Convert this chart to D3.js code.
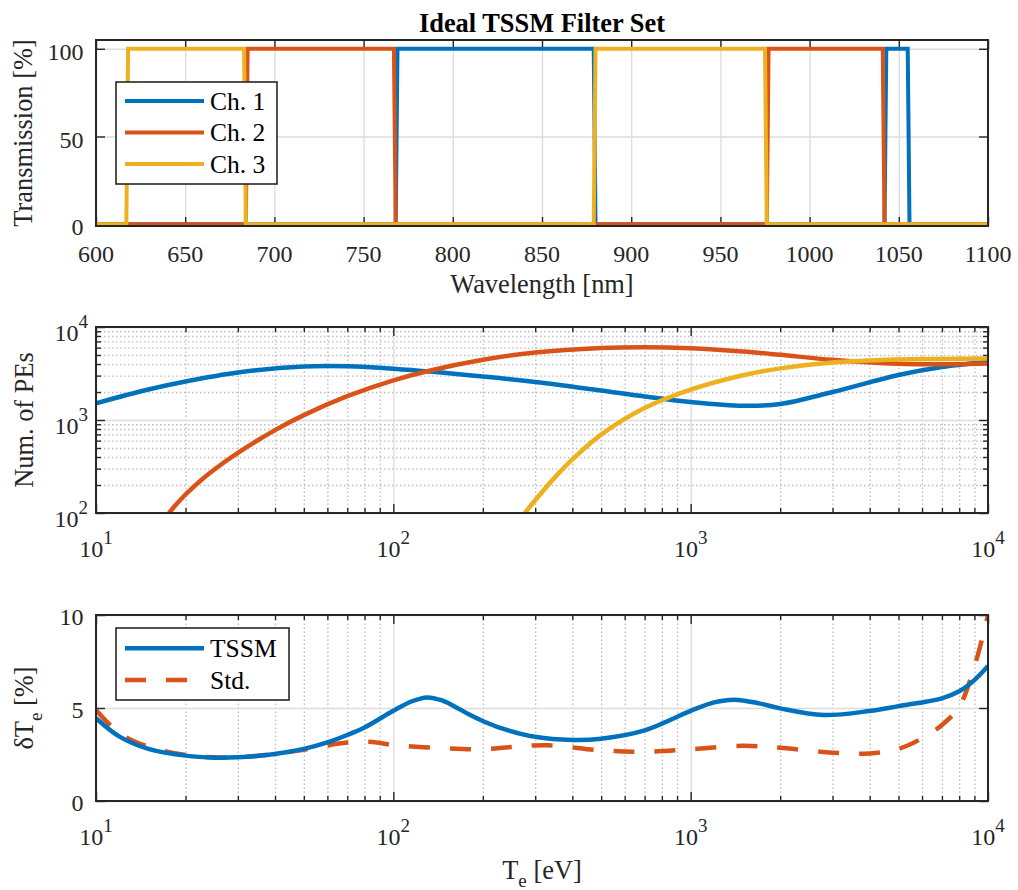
<!DOCTYPE html>
<html>
<head>
<meta charset="utf-8">
<script src="https://cdn.jsdelivr.net/npm/d3@7"></script>
<style>
  body { margin: 0; background: #fff; }
  svg { display: block; }
</style>
</head>
<body>
<svg id="chart" width="1018" height="890"></svg>
<script>
// ---------- Filter transmission (wavelength [nm] / transmission [%]) ----------
const ch1Wavelength = [600, 768, 769, 879, 880, 1042, 1043, 1055, 1056, 1100];
const ch1Transmission = [0, 0, 100, 100, 0, 0, 100, 100, 0, 0];
const ch2Wavelength = [600, 684, 685, 767, 768, 976, 977, 1041, 1042, 1100];
const ch2Transmission = [0, 0, 100, 100, 0, 0, 100, 100, 0, 0];
const ch3Wavelength = [600, 617, 618, 683, 684, 879, 880, 975, 976, 1100];
const ch3Transmission = [0, 0, 100, 100, 0, 0, 100, 100, 0, 0];
const channelNames = ["Ch. 1", "Ch. 2", "Ch. 3"];
const wavelengthTicks = [600, 650, 700, 750, 800, 850, 900, 950, 1000, 1050, 1100];
const transmissionTicks = [0, 50, 100];

// ---------- Photoelectron counts vs electron temperature ----------
const pe1Te = [10, 15, 20, 30, 50, 70, 100, 200, 300, 500, 700, 1000, 1500, 2000, 3000, 5000, 7000, 10000];
const pe1Count = [1512, 2128, 2594, 3242, 3760, 3780, 3552, 2936, 2563, 2076, 1789, 1562, 1425, 1486, 2000, 3048, 3715, 4205];
const pe2Te = [17.6, 18.5, 20, 22.5, 25, 30, 40, 50, 70, 100, 130, 200, 300, 500, 700, 1000, 1500, 2000, 3000, 5000, 7000, 10000];
const pe2Count = [100, 121, 158, 224, 294, 444, 779, 1129, 1803, 2673, 3347, 4440, 5318, 5946, 6065, 5916, 5453, 5024, 4440, 4022, 3972, 4042];
const pe3Te = [277, 300, 350, 400, 500, 700, 1000, 1500, 2000, 3000, 5000, 7000, 10000];
const pe3Count = [100, 137, 243, 377, 697, 1343, 2117, 3024, 3588, 4152, 4473, 4540, 4574];

// ---------- Relative temperature error [%] ----------
const tssmTe = [10, 12, 15, 20, 25, 30, 40, 50, 60, 70, 80, 100, 115, 130, 145, 160, 180, 200, 230, 300, 400, 500, 700, 1000, 1200, 1400, 1700, 2000, 2800, 4000, 5000, 7000, 8000, 9000, 10000];
const tssmErr = [4.45, 3.46, 2.8, 2.44, 2.33, 2.35, 2.53, 2.8, 3.15, 3.55, 3.95, 4.85, 5.35, 5.57, 5.42, 5.1, 4.65, 4.3, 3.92, 3.45, 3.28, 3.35, 3.8, 4.85, 5.3, 5.45, 5.25, 4.98, 4.62, 4.84, 5.1, 5.52, 5.9, 6.5, 7.26];
const stdTe = [10, 12, 15, 20, 25, 30, 40, 50, 70, 85, 100, 150, 200, 250, 330, 500, 700, 1000, 1500, 2100, 3000, 4000, 5000, 6000, 7000, 8000, 9000, 10000];
const stdErr = [4.89, 3.64, 2.92, 2.47, 2.35, 2.35, 2.53, 2.76, 3.14, 3.17, 3.01, 2.83, 2.78, 2.9, 3.0, 2.72, 2.65, 2.78, 2.97, 2.83, 2.6, 2.56, 2.8, 3.37, 4.09, 5.07, 7.22, 10];
const errNames = ["TSSM", "Std."];
const errTicks = [0, 5, 10];

const logMajor = [10, 100, 1000, 10000];
const logMinorX = [20, 30, 40, 50, 60, 70, 80, 90, 200, 300, 400, 500, 600, 700, 800, 900, 2000, 3000, 4000, 5000, 6000, 7000, 8000, 9000];
const logMajorY = [100, 1000, 10000];
const logMinorY = [200, 300, 400, 500, 600, 700, 800, 900, 2000, 3000, 4000, 5000, 6000, 7000, 8000, 9000];

// ---------- Styling ----------
const FONT = '"Liberation Serif","Times New Roman",Times,serif';
const AX = "#262626";
const BLUE = "#0072BD", RED = "#D95319", YEL = "#EDB120";
const TICK_FS = 24, LABEL_FS = 26.4, SUP_FS = 19, LEG_FS = 25.5;
const MAJOR = 9, MINOR = 5;

const svg = d3.select("#chart");
const L = 96, R = 988;

function addClip(id, top, bottom) {
  svg.append("defs").append("clipPath").attr("id", id)
    .append("rect").attr("x", L).attr("y", top).attr("width", R - L).attr("height", bottom - top);
}

function gridLines(g, axisGen, transform, color, dash) {
  const a = g.append("g").attr("transform", transform).call(axisGen);
  a.select(".domain").remove();
  a.selectAll("text").remove();
  a.selectAll("line").attr("stroke", color).attr("stroke-width", 1.3)
    .attr("stroke-dasharray", dash || null);
}

function tickMarks(g, axisGen, transform) {
  const a = g.append("g").attr("transform", transform).call(axisGen);
  a.select(".domain").remove();
  a.selectAll("text").remove();
  a.selectAll("line").attr("stroke", AX).attr("stroke-width", 1.4);
}

function frame(g, top, bottom) {
  g.append("rect").attr("x", L).attr("y", top).attr("width", R - L).attr("height", bottom - top)
    .attr("fill", "none").attr("stroke", AX).attr("stroke-width", 2);
}

function allTicks(g, x, y, top, bottom, xMaj, xMin, yMaj, yMin) {
  [[xMaj, MAJOR], [xMin, MINOR]].forEach(([vals, len]) => {
    if (!vals.length) return;
    tickMarks(g, d3.axisBottom(x).tickValues(vals).tickSize(-len).tickFormat(""), `translate(0,${bottom})`);
    tickMarks(g, d3.axisTop(x).tickValues(vals).tickSize(-len).tickFormat(""), `translate(0,${top})`);
  });
  [[yMaj, MAJOR], [yMin, MINOR]].forEach(([vals, len]) => {
    if (!vals.length) return;
    tickMarks(g, d3.axisLeft(y).tickValues(vals).tickSize(-len).tickFormat(""), `translate(${L},0)`);
    tickMarks(g, d3.axisRight(y).tickValues(vals).tickSize(-len).tickFormat(""), `translate(${R},0)`);
  });
}

function powLabel(g, v, xPos, yPos, anchor) {
  const t = g.append("text").attr("x", xPos).attr("y", yPos)
    .attr("text-anchor", anchor).attr("font-family", FONT).attr("font-size", TICK_FS).attr("fill", AX);
  t.append("tspan").text("10");
  t.append("tspan").attr("dy", -13).attr("font-size", SUP_FS).text(Math.round(Math.log10(v)));
}

function yLabel(g, cx, cy, build) {
  const t = g.append("text").attr("transform", `translate(${cx},${cy}) rotate(-90)`)
    .attr("text-anchor", "middle").attr("font-family", FONT).attr("font-size", LABEL_FS).attr("fill", AX);
  build(t);
}

// ================= Panel 1: transmission =================
{
  const top = 40, bottom = 226;
  const x = d3.scaleLinear().domain([600, 1100]).range([L, R]);
  const y = d3.scaleLinear().domain([-1, 105]).range([bottom, top]);
  const g = svg.append("g");
  addClip("clip1", top, bottom);

  gridLines(g, d3.axisBottom(x).tickValues(wavelengthTicks).tickSize(-(bottom - top)).tickFormat(""), `translate(0,${bottom})`, "#dcdcdc");
  gridLines(g, d3.axisLeft(y).tickValues(transmissionTicks).tickSize(-(R - L)).tickFormat(""), `translate(${L},0)`, "#dcdcdc");
  allTicks(g, x, y, top, bottom, wavelengthTicks, [], transmissionTicks, []);

  const line = d3.line().x(d => x(d[0])).y(d => y(d[1]));
  const series = [
    [d3.zip(ch1Wavelength, ch1Transmission), BLUE],
    [d3.zip(ch2Wavelength, ch2Transmission), RED],
    [d3.zip(ch3Wavelength, ch3Transmission), YEL]
  ];
  const lg = g.append("g").attr("clip-path", "url(#clip1)");
  series.forEach(([data, c]) => {
    lg.append("path").attr("d", line(data)).attr("fill", "none").attr("stroke", c)
      .attr("stroke-width", 4).attr("stroke-linejoin", "miter");
  });
  frame(g, top, bottom);

  wavelengthTicks.forEach(v => {
    g.append("text").attr("x", x(v)).attr("y", bottom + 36).attr("text-anchor", "middle")
      .attr("font-family", FONT).attr("font-size", TICK_FS).attr("fill", AX).text(v);
  });
  transmissionTicks.forEach(v => {
    g.append("text").attr("x", L - 12.5).attr("y", y(v) + 11).attr("text-anchor", "end")
      .attr("font-family", FONT).attr("font-size", TICK_FS).attr("fill", AX).text(v);
  });
  g.append("text").attr("x", (L + R) / 2).attr("y", 293).attr("text-anchor", "middle")
    .attr("font-family", FONT).attr("font-size", LABEL_FS).attr("fill", AX).text("Wavelength [nm]");
  yLabel(g, 32, (top + bottom) / 2, t => t.text("Transmission [%]"));

  svg.append("text").attr("x", (L + R) / 2).attr("y", 32).attr("text-anchor", "middle")
    .attr("font-family", FONT).attr("font-size", LABEL_FS).attr("font-weight", "bold")
    .attr("fill", "#000").text("Ideal TSSM Filter Set");

  // legend
  const leg = g.append("g");
  leg.append("rect").attr("x", 116).attr("y", 82).attr("width", 161).attr("height", 102)
    .attr("fill", "#fff").attr("stroke", AX).attr("stroke-width", 1.6);
  [BLUE, RED, YEL].forEach((c, i) => {
    const ly = 101 + i * 31.5;
    leg.append("line").attr("x1", 125).attr("x2", 204).attr("y1", ly).attr("y2", ly)
      .attr("stroke", c).attr("stroke-width", 4);
    leg.append("text").attr("x", 210).attr("y", ly + 8.5).attr("font-family", FONT)
      .attr("font-size", LEG_FS).attr("fill", "#000").text(channelNames[i]);
  });
}

// ================= Panel 2: number of photoelectrons =================
{
  const top = 327, bottom = 513;
  const x = d3.scaleLog().domain([10, 10000]).range([L, R]);
  const y = d3.scaleLog().domain([100, 10000]).range([bottom, top]);
  const g = svg.append("g");
  addClip("clip2", top, bottom);

  gridLines(g, d3.axisBottom(x).tickValues(logMinorX).tickSize(-(bottom - top)).tickFormat(""), `translate(0,${bottom})`, "#bdbdbd", "1.5,2.5");
  gridLines(g, d3.axisLeft(y).tickValues(logMinorY).tickSize(-(R - L)).tickFormat(""), `translate(${L},0)`, "#bdbdbd", "1.5,2.5");
  gridLines(g, d3.axisBottom(x).tickValues(logMajor).tickSize(-(bottom - top)).tickFormat(""), `translate(0,${bottom})`, "#dcdcdc");
  gridLines(g, d3.axisLeft(y).tickValues(logMajorY).tickSize(-(R - L)).tickFormat(""), `translate(${L},0)`, "#dcdcdc");
  allTicks(g, x, y, top, bottom, logMajor, logMinorX, logMajorY, logMinorY);

  const line = d3.line().x(d => x(d[0])).y(d => y(d[1])).curve(d3.curveCatmullRom.alpha(0.5));
  const lg = g.append("g").attr("clip-path", "url(#clip2)");
  [[d3.zip(pe1Te, pe1Count), BLUE], [d3.zip(pe2Te, pe2Count), RED], [d3.zip(pe3Te, pe3Count), YEL]]
    .forEach(([data, c]) => {
      lg.append("path").attr("d", line(data)).attr("fill", "none").attr("stroke", c).attr("stroke-width", 4.5);
    });
  frame(g, top, bottom);

  logMajor.forEach(v => powLabel(g, v, x(v), bottom + 44, "middle"));
  logMajorY.forEach(v => powLabel(g, v, 88, y(v) + 14, "end"));
  yLabel(g, 33, (top + bottom) / 2, t => t.text("Num. of PEs"));
}

// ================= Panel 3: temperature error =================
{
  const top = 615, bottom = 801;
  const x = d3.scaleLog().domain([10, 10000]).range([L, R]);
  const y = d3.scaleLinear().domain([0, 10]).range([bottom, top]);
  const g = svg.append("g");
  addClip("clip3", top, bottom);

  gridLines(g, d3.axisBottom(x).tickValues(logMinorX).tickSize(-(bottom - top)).tickFormat(""), `translate(0,${bottom})`, "#bdbdbd", "1.5,2.5");
  gridLines(g, d3.axisBottom(x).tickValues(logMajor).tickSize(-(bottom - top)).tickFormat(""), `translate(0,${bottom})`, "#dcdcdc");
  gridLines(g, d3.axisLeft(y).tickValues(errTicks).tickSize(-(R - L)).tickFormat(""), `translate(${L},0)`, "#dcdcdc");
  allTicks(g, x, y, top, bottom, logMajor, logMinorX, errTicks, []);

  const line = d3.line().x(d => x(d[0])).y(d => y(d[1])).curve(d3.curveCatmullRom.alpha(0.5));
  const lg = g.append("g").attr("clip-path", "url(#clip3)");
  lg.append("path").attr("d", line(d3.zip(stdTe, stdErr))).attr("fill", "none").attr("stroke", RED)
    .attr("stroke-width", 4.5).attr("stroke-dasharray", "21,20");
  lg.append("path").attr("d", line(d3.zip(tssmTe, tssmErr))).attr("fill", "none").attr("stroke", BLUE)
    .attr("stroke-width", 4.5);
  frame(g, top, bottom);

  logMajor.forEach(v => powLabel(g, v, x(v), bottom + 44, "middle"));
  errTicks.forEach(v => {
    g.append("text").attr("x", L - 12.5).attr("y", y(v) + 10).attr("text-anchor", "end")
      .attr("font-family", FONT).attr("font-size", TICK_FS).attr("fill", AX).text(v);
  });
  yLabel(g, 33, (top + bottom) / 2, t => {
    t.append("tspan").text("δT");
    t.append("tspan").attr("dy", 9).attr("font-size", SUP_FS).text("e");
    t.append("tspan").attr("dy", -9).text(" [%]");
  });
  const xl = g.append("text").attr("x", (L + R) / 2).attr("y", 879).attr("text-anchor", "middle")
    .attr("font-family", FONT).attr("font-size", LABEL_FS).attr("fill", AX);
  xl.append("tspan").text("T");
  xl.append("tspan").attr("dy", 8).attr("font-size", SUP_FS).text("e");
  xl.append("tspan").attr("dy", -8).text(" [eV]");

  // legend
  const leg = g.append("g");
  leg.append("rect").attr("x", 116).attr("y", 628).attr("width", 173).attr("height", 72)
    .attr("fill", "#fff").attr("stroke", AX).attr("stroke-width", 1.6);
  leg.append("line").attr("x1", 125).attr("x2", 204).attr("y1", 648.3).attr("y2", 648.3)
    .attr("stroke", BLUE).attr("stroke-width", 4.5);
  leg.append("line").attr("x1", 125).attr("x2", 204).attr("y1", 680).attr("y2", 680)
    .attr("stroke", RED).attr("stroke-width", 4.5).attr("stroke-dasharray", "21,20");
  [648.3, 680].forEach((ly, i) => {
    leg.append("text").attr("x", 210).attr("y", ly + 9).attr("font-family", FONT)
      .attr("font-size", LEG_FS).attr("fill", "#000").text(errNames[i]);
  });
}
</script>
</body>
</html>
